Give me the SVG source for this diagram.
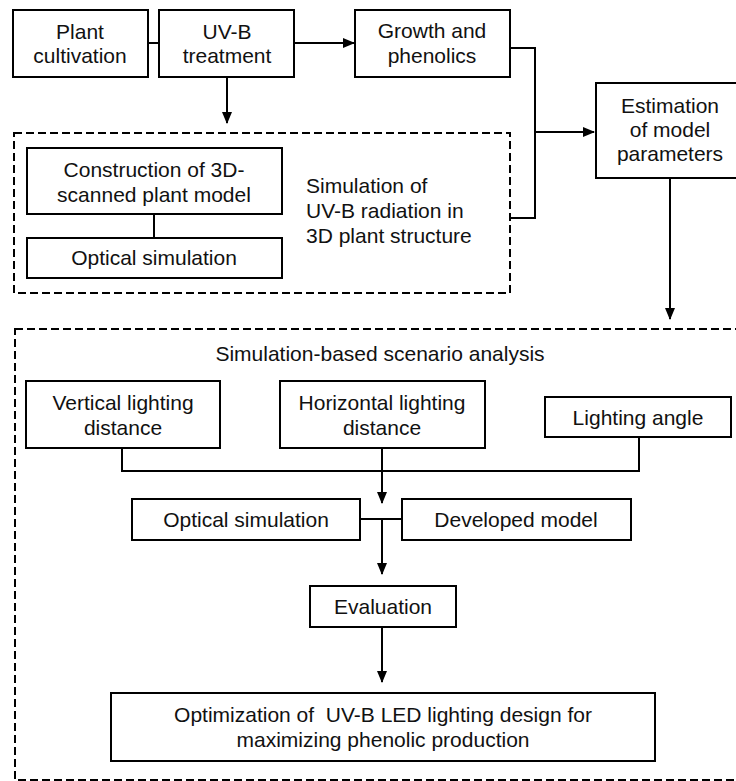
<svg xmlns="http://www.w3.org/2000/svg" width="736" height="781" viewBox="0 0 736 781">
<style>
.box{fill:#fff;stroke:#000;stroke-width:2}
.dash{fill:none;stroke:#000;stroke-width:2;stroke-dasharray:8 4}
.ln{fill:none;stroke:#000;stroke-width:2}
text{font-family:"Liberation Sans",Arial,sans-serif;font-size:21px;fill:#111}
.c{text-anchor:middle}
</style>
<defs>
<marker id="ah" markerWidth="12" markerHeight="10" refX="11" refY="5" orient="auto" markerUnits="userSpaceOnUse">
<path d="M0,0 L12,5 L0,10 Z" fill="#000"/>
</marker>
</defs>
<rect width="736" height="781" fill="#fff"/>
<g id="group-uvb-sim">
<rect class="dash" x="14" y="133" width="496" height="160"/>
<text x="306" y="193">Simulation of</text>
<text x="306" y="218">UV-B radiation in</text>
<text x="306" y="243">3D plant structure</text>
</g>
<g id="group-scenario">
<rect class="dash" x="15" y="329" width="740" height="451"/>
<text class="c" x="380" y="361">Simulation-based scenario analysis</text>
</g>
<g id="connectors">
<line class="ln" x1="148" y1="43" x2="159" y2="43"/>
<line class="ln" x1="294" y1="43" x2="354" y2="43" marker-end="url(#ah)"/>
<line class="ln" x1="227" y1="77" x2="227" y2="123" marker-end="url(#ah)"/>
<polyline class="ln" points="510,48 535,48 535,218 510,218"/>
<line class="ln" x1="535" y1="132" x2="594" y2="132" marker-end="url(#ah)"/>
<line class="ln" x1="670" y1="178" x2="670" y2="319" marker-end="url(#ah)"/>
<line class="ln" x1="154" y1="214" x2="154" y2="238"/>
<polyline class="ln" points="122,448 122,471 639,471 639,437"/>
<line class="ln" x1="382" y1="448" x2="382" y2="503" marker-end="url(#ah)"/>
<line class="ln" x1="360" y1="519" x2="402" y2="519"/>
<line class="ln" x1="382" y1="519" x2="382" y2="574" marker-end="url(#ah)"/>
<line class="ln" x1="382" y1="627" x2="382" y2="682" marker-end="url(#ah)"/>
</g>
<g id="plant-cultivation">
<rect class="box" x="13" y="10" width="135" height="67"/>
<text class="c" x="80" y="39">Plant</text>
<text class="c" x="80" y="63">cultivation</text>
</g>
<g id="uvb-treatment">
<rect class="box" x="159" y="10" width="135" height="67"/>
<text class="c" x="227" y="39">UV-B</text>
<text class="c" x="227" y="63">treatment</text>
</g>
<g id="growth-phenolics">
<rect class="box" x="355" y="10" width="155" height="67"/>
<text class="c" x="432" y="38">Growth and</text>
<text class="c" x="432" y="63">phenolics</text>
</g>
<g id="estimation">
<rect class="box" x="596" y="83" width="150" height="95"/>
<text class="c" x="670" y="113">Estimation</text>
<text class="c" x="670" y="137">of model</text>
<text class="c" x="670" y="161">parameters</text>
</g>
<g id="construction-3d">
<rect class="box" x="27" y="148" width="255" height="66"/>
<text class="c" x="154" y="177">Construction of 3D-</text>
<text class="c" x="154" y="202">scanned plant model</text>
</g>
<g id="optical-sim-top">
<rect class="box" x="27" y="238" width="255" height="40"/>
<text class="c" x="154" y="265">Optical simulation</text>
</g>
<g id="vertical-distance">
<rect class="box" x="26" y="381" width="194" height="67"/>
<text class="c" x="123" y="410">Vertical lighting</text>
<text class="c" x="123" y="435">distance</text>
</g>
<g id="horizontal-distance">
<rect class="box" x="280" y="381" width="205" height="67"/>
<text class="c" x="382" y="410">Horizontal lighting</text>
<text class="c" x="382" y="435">distance</text>
</g>
<g id="lighting-angle">
<rect class="box" x="545" y="397" width="186" height="40"/>
<text class="c" x="638" y="425">Lighting angle</text>
</g>
<g id="optical-sim-bottom">
<rect class="box" x="132" y="499" width="228" height="41"/>
<text class="c" x="246" y="527">Optical simulation</text>
</g>
<g id="developed-model">
<rect class="box" x="402" y="499" width="229" height="41"/>
<text class="c" x="516" y="527">Developed model</text>
</g>
<g id="evaluation">
<rect class="box" x="310" y="586" width="146" height="41"/>
<text class="c" x="383" y="614">Evaluation</text>
</g>
<g id="optimization">
<rect class="box" x="111" y="693" width="544" height="68"/>
<text class="c" x="383" y="722" xml:space="preserve">Optimization of  UV-B LED lighting design for</text>
<text class="c" x="383" y="747">maximizing phenolic production</text>
</g>
</svg>
